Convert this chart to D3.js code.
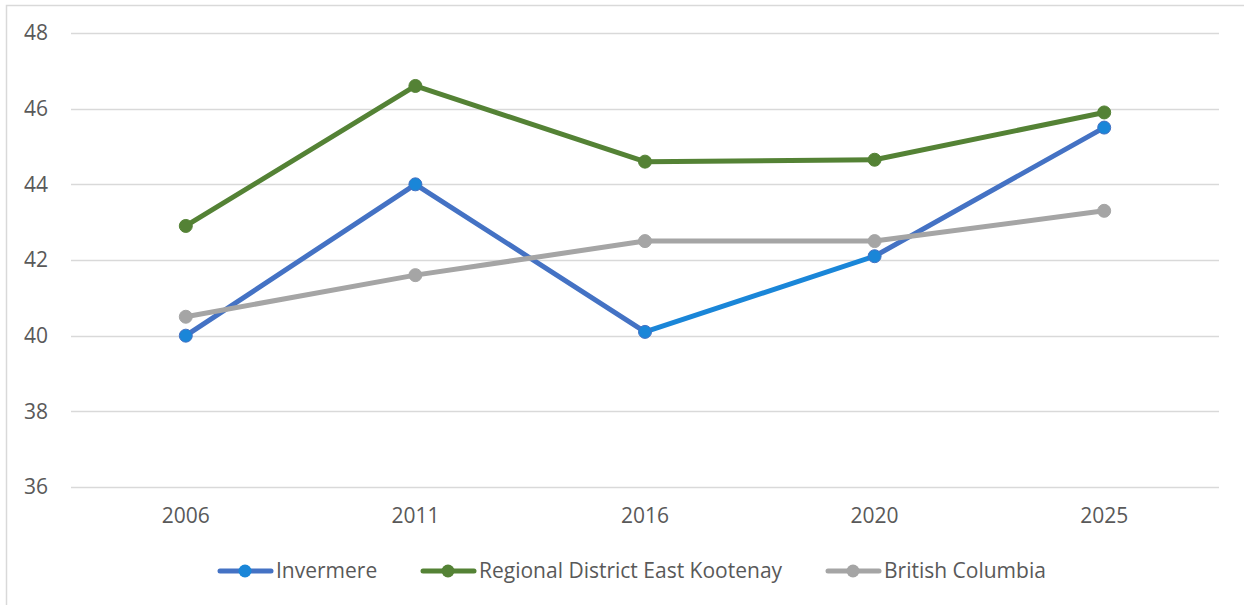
<!DOCTYPE html>
<html>
<head>
<meta charset="utf-8">
<script src="https://cdn.jsdelivr.net/npm/d3@7"></script>
<style>
    body { margin: 0; background: #fff; }
    svg { display: block; font-family: "Open Sans", Lato, sans-serif; }
</style>
</head>
<body>
<svg id="chart" width="1244" height="605"></svg>
<script>
(function () {
    'use strict';

    let years = ['2006', '2011', '2016', '2020', '2025'];
    let invermere = [40.0, 44.0, 40.1, 42.1, 45.5];
    let eastKootenay = [42.9, 46.6, 44.6, 44.65, 45.9];
    let britishColumbia = [40.5, 41.6, 42.5, 42.5, 43.3];
    let yTicks = [36, 38, 40, 42, 44, 46, 48];

    // per-segment colours for Invermere (the 2016-2020 piece is lighter in the original)
    let invermereSegColors = ['#4472c4', '#4472c4', '#1a86d8', '#4472c4'];

    let series = [
        { name: 'Invermere', values: invermere, color: '#4472c4', marker: '#1a86d8', segColors: invermereSegColors },
        { name: 'Regional District East Kootenay', values: eastKootenay, color: '#548235', marker: '#548235' },
        { name: 'British Columbia', values: britishColumbia, color: '#a5a5a5', marker: '#a5a5a5' }
    ];

    let width = 1244, height = 605;
    let margin = { left: 71, right: 25, top: 33, bottom: 118 };
    let fontSize = 21;

    let svg = d3.select('#chart');

    // outer frame (only top and left edges show in the original)
    svg.append('path')
        .attr('d', 'M6.5,' + (height) + 'V5.5H' + width)
        .attr('fill', 'none')
        .attr('stroke', '#d9d9d9')
        .attr('stroke-width', 1.5);

    let x = d3.scaleBand()
        .domain(years)
        .range([margin.left, width - margin.right]);

    let y = d3.scaleLinear()
        .domain([36, 48])
        .range([height - margin.bottom, margin.top]);

    // grid
    svg.append('g')
        .selectAll('line')
        .data(yTicks)
        .enter()
        .append('line')
        .attr('x1', margin.left)
        .attr('x2', width - margin.right)
        .attr('y1', function (d) { return Math.round(y(d)) + 0.5; })
        .attr('y2', function (d) { return Math.round(y(d)) + 0.5; })
        .attr('stroke', '#d9d9d9')
        .attr('stroke-width', 1.5);

    let yAxis = d3.axisLeft(y).tickValues(yTicks).tickSize(0).tickPadding(0);
    let yG = svg.append('g')
        .attr('transform', 'translate(48,0)')
        .call(yAxis);
    yG.select('.domain').remove();
    yG.selectAll('text')
        .attr('font-size', fontSize)
        .attr('font-family', '"Open Sans", Lato, sans-serif')
        .attr('fill', '#595959');

    let xAxis = d3.axisBottom(x).tickSize(0).tickPadding(0);
    let xG = svg.append('g')
        .attr('transform', 'translate(0,' + (y(36) + 21) + ')')
        .call(xAxis);
    xG.select('.domain').remove();
    xG.selectAll('text')
        .attr('font-size', fontSize)
        .attr('font-family', '"Open Sans", Lato, sans-serif')
        .attr('fill', '#595959');

    function cx(i) { return x(years[i]) + x.bandwidth() / 2; }

    let plot = svg.append('g');

    series.forEach(function (s) {
        let g = plot.append('g');
        let segs = d3.range(s.values.length - 1);
        g.selectAll('line')
            .data(segs)
            .enter()
            .append('line')
            .attr('x1', function (i) { return cx(i); })
            .attr('y1', function (i) { return y(s.values[i]); })
            .attr('x2', function (i) { return cx(i + 1); })
            .attr('y2', function (i) { return y(s.values[i + 1]); })
            .attr('stroke', function (i) { return s.segColors ? s.segColors[i] : s.color; })
            .attr('stroke-width', 5)
            .attr('stroke-linecap', 'round');
        g.selectAll('circle')
            .data(s.values)
            .enter()
            .append('circle')
            .attr('cx', function (d, i) { return cx(i); })
            .attr('cy', function (d) { return y(d); })
            .attr('r', 6.5)
            .attr('fill', s.marker)
            .attr('stroke', s.color)
            .attr('stroke-width', 1);
    });

    // legend
    let legendX = [218, 421, 826];
    let legendY = 571;
    let legend = svg.append('g')
        .selectAll('g')
        .data(series)
        .enter()
        .append('g')
        .attr('transform', function (d, i) { return 'translate(' + legendX[i] + ',' + legendY + ')'; });
    legend.append('line')
        .attr('x1', 2).attr('x2', 53)
        .attr('stroke', function (d) { return d.color; })
        .attr('stroke-width', 5)
        .attr('stroke-linecap', 'round');
    legend.append('circle')
        .attr('cx', 27)
        .attr('r', 6.5)
        .attr('fill', function (d) { return d.marker; });
    legend.append('text')
        .attr('x', 58)
        .attr('dy', '0.35em')
        .attr('font-size', fontSize)
        .attr('fill', '#595959')
        .text(function (d) { return d.name; });
})();
</script>
</body>
</html>
